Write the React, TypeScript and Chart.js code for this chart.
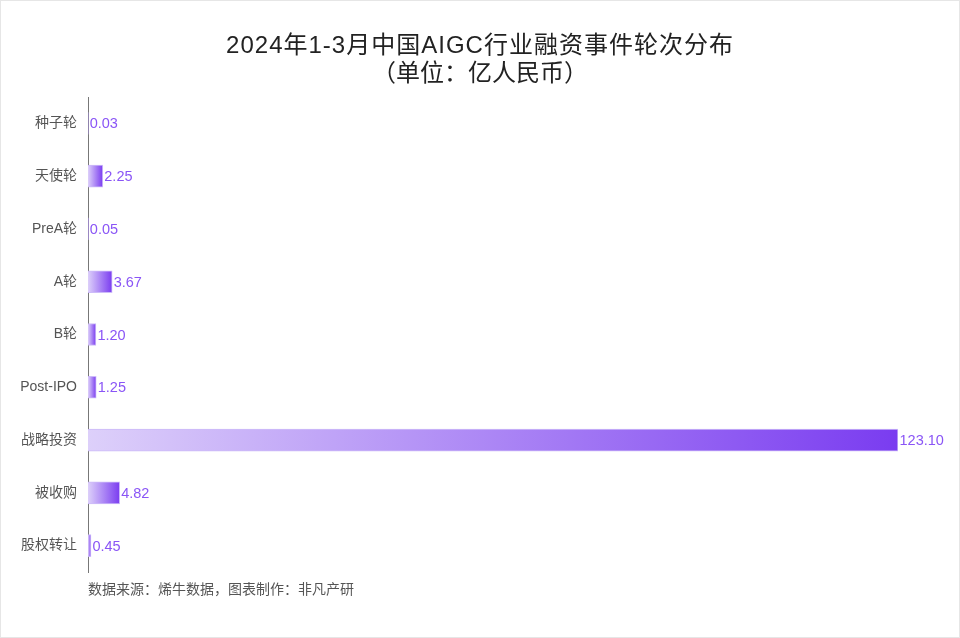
import React, { useEffect, useRef } from "react";
import { Chart, registerables } from "chart.js";

Chart.register(...registerables);

const categories = ["种子轮", "天使轮", "PreA轮", "A轮", "B轮", "Post-IPO", "战略投资", "被收购", "股权转让"];
const amounts = [0.03, 2.25, 0.05, 3.67, 1.2, 1.25, 123.1, 4.82, 0.45];
const titleLines = ["2024年1-3月中国AIGC行业融资事件轮次分布", "（单位：亿人民币）"];
const footnote = "数据来源：烯牛数据，图表制作：非凡产研";

const FONT = "'Liberation Sans', 'Noto Sans CJK SC', sans-serif";

export default function App() {
  const ref = useRef<HTMLCanvasElement | null>(null);

  useEffect(() => {
    document.body.style.margin = "0";
    const canvas = ref.current!;
    const decor = {
      id: "decor",
      beforeDraw(chart: any) {
        const c = chart.ctx;
        c.save();
        c.fillStyle = "#ffffff";
        c.fillRect(0, 0, chart.width, chart.height);
        c.strokeStyle = "#e6e6e6";
        c.lineWidth = 1;
        c.strokeRect(0.5, 0.5, chart.width - 1, chart.height - 1);
        c.fillStyle = "#222222";
        c.textAlign = "center";
        c.textBaseline = "middle";
        c.font = "24px " + FONT;
        try { (c as any).letterSpacing = "1px"; } catch (e) {}
        c.fillText(titleLines[0], chart.width / 2, 46);
        try { (c as any).letterSpacing = "0px"; } catch (e) {}
        c.fillText(titleLines[1], chart.width / 2, 74);
        c.fillStyle = "#555555";
        c.textAlign = "left";
        c.font = "14px " + FONT;
        c.fillText(footnote, 88, 590);
        c.restore();
      },
      afterDatasetsDraw(chart: any) {
        const c = chart.ctx;
        const meta = chart.getDatasetMeta(0);
        c.save();
        c.fillStyle = "#8a55f6";
        c.font = "14.5px " + FONT;
        c.textAlign = "left";
        c.textBaseline = "middle";
        meta.data.forEach((bar: any, i: number) => {
          c.fillText(amounts[i].toFixed(2), bar.x + 1.5, bar.y + 1);
        });
        c.restore();
      },
    };

    const chart = new Chart(canvas, {
      type: "bar",
      data: {
        labels: categories,
        datasets: [
          {
            data: amounts,
            backgroundColor: (ctx: any) => {
              const chart = ctx.chart;
              const xs = chart.scales.x;
              if (!xs || ctx.dataIndex === undefined) return "#a37cf5";
              const x0 = xs.getPixelForValue(0);
              const x1 = xs.getPixelForValue(amounts[ctx.dataIndex]);
              if (!isFinite(x0) || !isFinite(x1) || x1 - x0 < 0.5) return "#a37cf5";
              const g = chart.ctx.createLinearGradient(x0, 0, x1, 0);
              g.addColorStop(0, "#ddd0fa");
              g.addColorStop(1, "#7a3cf0");
              return g;
            },
            borderColor: "rgba(200,180,248,0.9)",
            borderWidth: 1,
            borderSkipped: "left",
            barThickness: 22,
          },
        ],
      },
      options: {
        indexAxis: "y",
        animation: false,
        responsive: false,
        maintainAspectRatio: false,
        layout: { padding: { top: 97, bottom: 66, right: 62, left: 0 } },
        plugins: {
          legend: { display: false },
          title: { display: false },
          tooltip: { enabled: false },
        },
        scales: {
          x: {
            display: false,
            min: 0,
            max: 123.1,
          },
          y: {
            afterFit: (s: any) => {
              s.width = 88;
            },
            grid: { display: false, drawTicks: false },
            border: { display: true, color: "#777777", width: 1 },
            ticks: {
              color: "#555555",
              padding: 11,
              font: { size: 14, family: FONT },
            },
          },
        },
      },
      plugins: [decor],
    });
    return () => chart.destroy();
  }, []);

  return (
    <div style={{ width: 960, height: 638, position: "relative" }}>
      <canvas ref={ref} width={960} height={638} style={{ display: "block", width: 960, height: 638 }} />
    </div>
  );
}
